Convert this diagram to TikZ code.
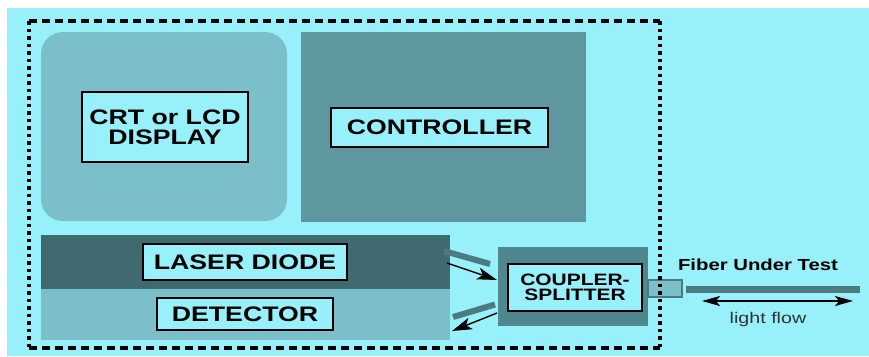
\documentclass[tikz,border=0pt]{standalone}
\usepackage{fontspec}
\setmainfont{Liberation Sans}[FakeStretch=1.27]
\usetikzlibrary{arrows.meta,calc}
\definecolor{bgc}{HTML}{98F0FA}
\definecolor{midc}{HTML}{7BBFCA}
\definecolor{ctrlc}{HTML}{5F979F}
\definecolor{laserc}{HTML}{3F6B70}
\definecolor{coupc}{HTML}{4E878D}
\definecolor{fiberc}{HTML}{4A7B80}
\tikzset{
  blk/.style={draw=none,minimum width=#1,inner sep=0pt,outer sep=0pt},
  lbl/.style={draw=black,line width=2.2pt,fill=bgc,inner sep=0pt,outer sep=0pt,align=center,
    font=\bfseries\fontsize{21}{21}\selectfont},
  bar/.style={draw=fiberc,line width=6pt},
  sig/.style={draw=black,line width=1.4pt,-{Stealth[length=20pt,width=12pt,inset=5pt]}},
}
\begin{document}
\begin{tikzpicture}[x=1pt,y=-1pt]
\useasboundingbox (0,0) rectangle (869,356);
\fill[bgc] (7,8) rectangle (869,356);
% blocks
\node[blk=246pt,minimum height=189pt,fill=midc,rounded corners=22pt] (crt) at (164,126.5) {};
\node[lbl,minimum width=166pt,minimum height=70pt] (crtlbl) at (165,127) {CRT or LCD\\[-1pt]DISPLAY};
\node[blk=285pt,minimum height=190pt,fill=ctrlc] (ctrl) at (443.5,127) {};
\node[lbl,minimum width=217pt,minimum height=39pt] (ctrllbl) at (439.5,127.5) {CONTROLLER};
\node[blk=409pt,minimum height=54pt,fill=laserc] (laser) at (245.5,262) {};
\node[lbl,minimum width=204pt,minimum height=36pt] (laserlbl) at (245,262) {LASER DIODE};
\node[blk=409pt,minimum height=51pt,fill=midc] (det) at (245.5,314.5) {};
\node[lbl,minimum width=176pt,minimum height=32pt] (detlbl) at (245,314) {DETECTOR};
\node[blk=150pt,minimum height=79pt,fill=coupc] (coup) at (573,286.5) {};
\node[lbl,minimum width=134pt,minimum height=47pt,font=\bfseries\fontsize{16.5}{15}\selectfont] (couplbl) at (575,287.5) {COUPLER-\\SPLITTER};
% bars and arrows
\draw[bar] ($(laser.east)+(-6,-11)$) -- ($(coup.west)+(-8,-22.5)$);
\draw[sig] ($(laser.east)+(-3,1)$) -- ($(coup.west)+(-1,-6.5)$);
\draw[bar] ($(det.east)+(3,2.5)$) -- ($(coup.west)+(-3,18)$);
\draw[sig] ($(coup.west)+(-1,26.5)$) -- ($(det.east)+(2,16.5)$);
% connector and fiber
\node[draw=fiberc,line width=1.5pt,fill=midc,minimum width=34pt,minimum height=17pt,inner sep=0pt] (conn) at (665,288.5) {};
\coordinate (fend) at (860,289);
\draw[fiberc,line width=7pt] ($(conn.east)+(3,0.5)$) -- (fend);
\coordinate (fa) at (702,301);
\coordinate (fb) at (853,301);
\draw[black,line width=1.4pt,{Stealth[length=18pt,width=10pt,inset=4pt]}-{Stealth[length=18pt,width=10pt,inset=4pt]}] (fa) -- (fb);
\node[font=\bfseries\fontsize{16}{16}\selectfont,inner sep=0pt] (fut) at (758,265) {Fiber Under Test};
\node[font=\fontsize{15.5}{15.5}\selectfont,inner sep=0pt,text=black!80] (lf) at (768,319) {light flow};
% enclosure
\draw[black,line width=3.2pt,dash pattern=on 8pt off 5pt] (29,21) -- (660,21);
\draw[black,line width=3.2pt,dash pattern=on 8pt off 5pt] (29,348) -- (660,348);
\draw[black,line width=3.2pt,dash pattern=on 3.5pt off 4pt] (29,21) -- (29,348);
\draw[black,line width=3.2pt,dash pattern=on 3.5pt off 4pt] (660,21) -- (660,348);
\end{tikzpicture}
\end{document}
